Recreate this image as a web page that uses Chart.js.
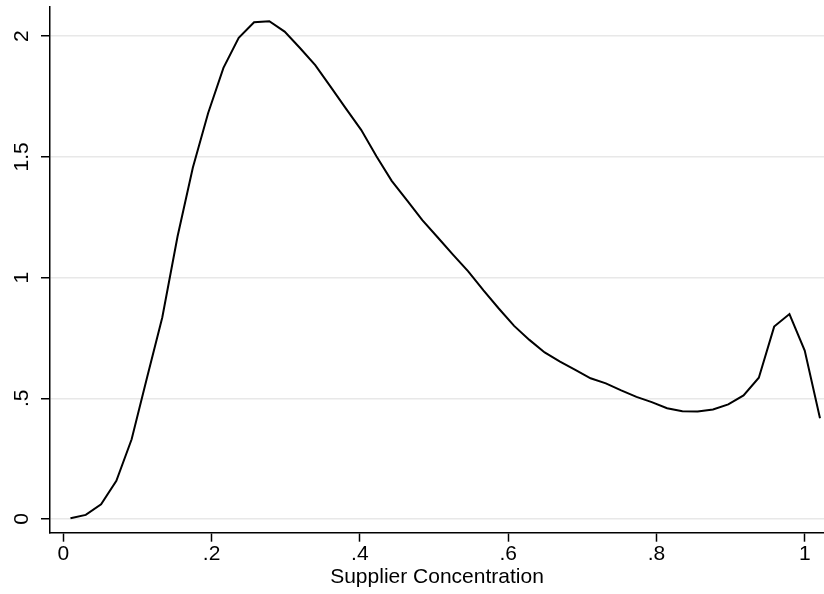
<!DOCTYPE html>
<html>
<head>
<meta charset="utf-8">
<script src="https://cdn.jsdelivr.net/npm/chart.js@4/dist/chart.umd.min.js"></script>
<style>
  html, body { margin: 0; padding: 0; background: #ffffff; }
  #wrap { width: 824px; height: 594px; }
</style>
</head>
<body>
<div id="wrap"><canvas id="c" width="824" height="594"></canvas></div>
<script>
// Kernel density estimate of supplier concentration
const concentration = [
  0.0097, 0.0303, 0.0510, 0.0716, 0.0922, 0.1129, 0.1335, 0.1541, 0.1747, 0.1954,
  0.2160, 0.2366, 0.2573, 0.2779, 0.2985, 0.3192, 0.3398, 0.3604, 0.3810, 0.4017,
  0.4223, 0.4429, 0.4636, 0.4842, 0.5048, 0.5255, 0.5461, 0.5667, 0.5873, 0.6080,
  0.6286, 0.6492, 0.6699, 0.6905, 0.7111, 0.7317, 0.7524, 0.7730, 0.7936, 0.8143,
  0.8349, 0.8555, 0.8762, 0.8968, 0.9174, 0.9380, 0.9587, 0.9793, 0.9999, 1.0205
];
const density = [
  0.003, 0.017, 0.061, 0.158, 0.330, 0.585, 0.835, 1.170, 1.455, 1.682,
  1.869, 1.993, 2.058, 2.062, 2.019, 1.951, 1.880, 1.791, 1.701, 1.612,
  1.503, 1.401, 1.320, 1.238, 1.167, 1.095, 1.026, 0.947, 0.872, 0.800,
  0.742, 0.690, 0.652, 0.618, 0.583, 0.562, 0.533, 0.506, 0.484, 0.459,
  0.446, 0.445, 0.454, 0.475, 0.512, 0.585, 0.797, 0.849, 0.698, 0.417
];
const xTicks = [0, 0.2, 0.4, 0.6, 0.8, 1];
const yTicks = [0, 0.5, 1, 1.5, 2];
const xTitle = 'Supplier Concentration';

function stataLabel(v) {
  const r = Math.round(v * 1000) / 1000;
  let s = String(r);
  if (s.startsWith('0.')) s = s.slice(1);
  return s;
}

const points = concentration.map((x, i) => ({ x: x, y: density[i] }));
const FONT = "'Liberation Sans', Arial, sans-serif";

new Chart(document.getElementById('c'), {
  type: 'line',
  data: {
    datasets: [{
      data: points,
      borderColor: '#000000',
      borderWidth: 2,
      pointRadius: 0,
      tension: 0,
      fill: false
    }]
  },
  options: {
    responsive: false,
    animation: false,
    devicePixelRatio: 1,
    layout: { padding: { top: 7, left: 0, right: 0, bottom: 0 } },
    plugins: { legend: { display: false }, tooltip: { enabled: false } },
    scales: {
      x: {
        type: 'linear',
        min: -0.0179,
        max: 1.0259,
        afterBuildTicks: (s) => { s.ticks = xTicks.map(v => ({ value: v })); },
        afterFit: (s) => { s.height = 61.3; s.paddingLeft = 0; s.paddingRight = 0; },
        grid: {
          drawOnChartArea: false,
          drawTicks: true,
          tickLength: 9,
          tickColor: '#000000',
          tickWidth: 1.5
        },
        border: { display: true, color: '#000000', width: 1.5 },
        ticks: {
          color: '#000000',
          font: { family: FONT, size: 21 },
          padding: 0,
          maxRotation: 0,
          minRotation: 0,
          autoSkip: false,
          callback: (v) => stataLabel(v)
        },
        title: {
          display: true,
          text: xTitle,
          color: '#000000',
          font: { family: FONT, size: 21 },
          padding: { top: 0, bottom: 4 }
        }
      },
      y: {
        type: 'linear',
        min: -0.0568,
        max: 2.121,
        afterBuildTicks: (s) => { s.ticks = yTicks.map(v => ({ value: v })); },
        afterFit: (s) => { s.width = 50; s.paddingTop = 0; s.paddingBottom = 0; },
        grid: {
          color: '#e8e8e8',
          lineWidth: 1.5,
          drawTicks: true,
          tickLength: 9,
          tickColor: '#000000',
          tickWidth: 1.5
        },
        border: { display: true, color: '#000000', width: 1.5 },
        ticks: {
          color: '#000000',
          font: { family: FONT, size: 21 },
          padding: 4,
          minRotation: 90,
          maxRotation: 90,
          crossAlign: 'center',
          autoSkip: false,
          callback: (v) => stataLabel(v)
        }
      }
    }
  }
});
</script>
</body>
</html>
